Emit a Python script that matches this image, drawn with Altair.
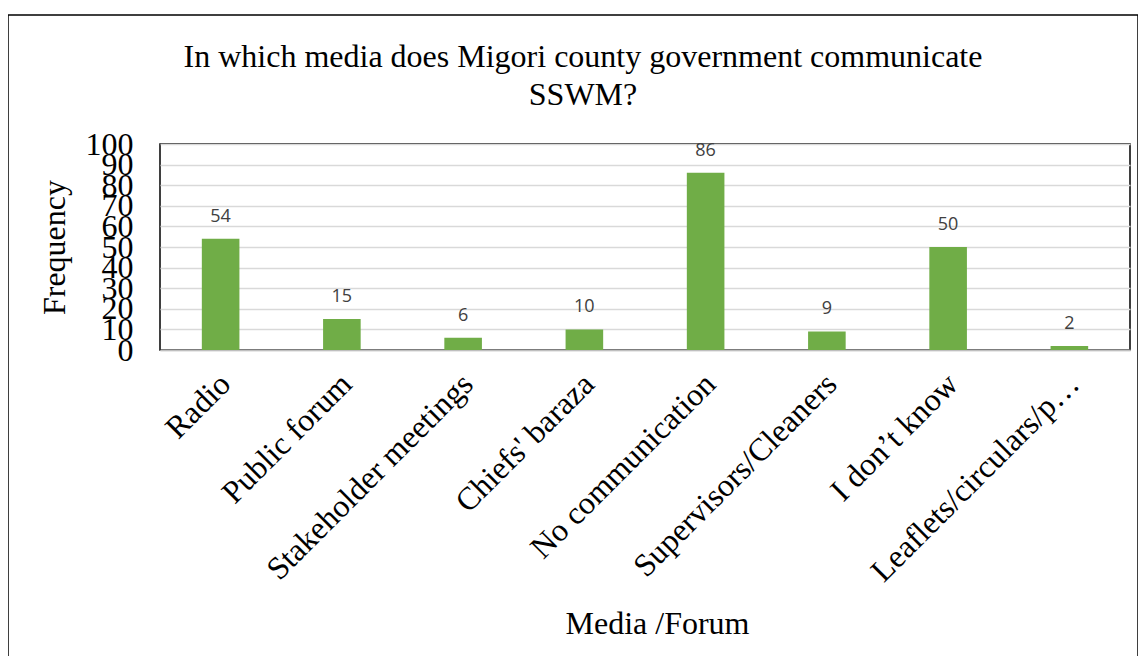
import altair as alt
import pandas as pd

categories = ["Radio", "Public forum", "Stakeholder meetings", "Chiefs' baraza",
              "No communication", "Supervisors/Cleaners", "I don\u2019t know",
              "Leaflets/circulars/p\u2026"]
frequency = [54, 15, 6, 10, 86, 9, 50, 2]
y_ticks = [0, 10, 20, 30, 40, 50, 60, 70, 80, 90, 100]
title_text = "In which media does Migori county government communicate\nSSWM?"

df = pd.DataFrame({"Media": categories, "Frequency": frequency})

SERIF = "Liberation Serif"

x = alt.X("Media:N", sort=categories,
          scale=alt.Scale(paddingInner=0.69, paddingOuter=0.345),
          axis=alt.Axis(title="Media /Forum", labelAngle=-45, labelFont=SERIF,
                        labelFontSize=32, labelColor="black", labelPadding=18,
                        labelOffset=-6,
                        labelLimit=500, labelOverlap=False, ticks=False,
                        domainColor="#bfbfbf", domainWidth=1.5,
                        titleFont=SERIF, titleFontSize=32,
                        titleFontWeight="normal", titleColor="black",
                        titleX=497, titleY=283, titleBaseline="alphabetic",
                        titleAnchor="middle", titleAlign="center"))
y = alt.Y("Frequency:Q",
          scale=alt.Scale(domain=[0, 100], nice=False),
          axis=alt.Axis(title="Frequency", values=y_ticks, tickCount=len(y_ticks),
                        labelFont=SERIF,
                        labelFontSize=32, labelColor="black", labelPadding=27,
                        labelOverlap=False, labelFlush=False, ticks=False,
                        domain=False,
                        gridColor="#d9d9d9", gridWidth=1.5, titleFont=SERIF,
                        titleFontSize=32, titleFontWeight="normal",
                        titleColor="black", titlePadding=14))

bars = alt.Chart(df).mark_bar(color="#70ad47").encode(x=x, y=y)
labels = alt.Chart(df).mark_text(dy=-17, fontSize=18, font="Open Sans",
                                 baseline="alphabetic",
                                 color="#404040").encode(
    x=x, y=y, text="Frequency:Q")

border = alt.Chart(pd.DataFrame({"a": [0]})).mark_rect(
    fill=None, stroke="black", strokeWidth=1.5).encode(
    x=alt.value(-152), x2=alt.value(978), y=alt.value(-129), y2=alt.value(560))

title = alt.Chart(pd.DataFrame({"t": [title_text]})).mark_text(
    font=SERIF, fontSize=32, color="black", align="center",
    baseline="alphabetic", lineBreak="\n", lineHeight=38).encode(
    x=alt.value(423), y=alt.value(-77), text="t:N")

chart = alt.layer(border, bars, labels, title).properties(
    width=970, height=206,
    autosize=alt.AutoSizeParams(type="none"),
    padding={"left": 152, "top": 136, "right": 8, "bottom": 306},
).configure_view(stroke="black", strokeWidth=1.5)

chart.save("out.html", embed_options={"renderer": "svg", "actions": False})
